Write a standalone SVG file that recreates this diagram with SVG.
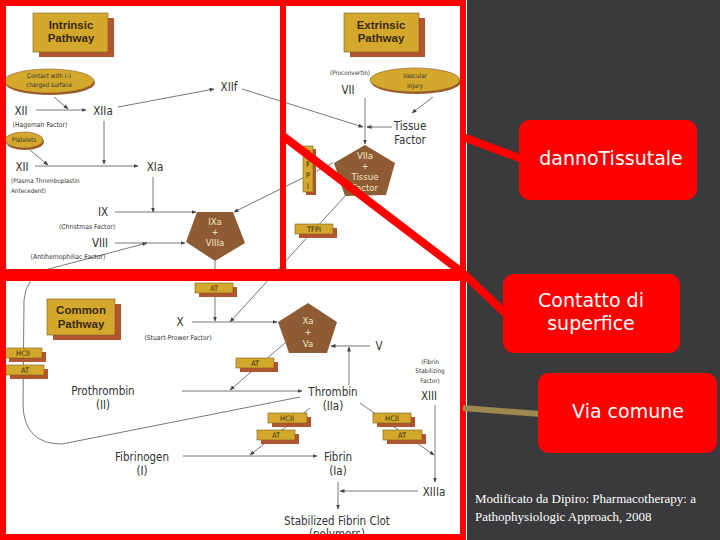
<svg xmlns="http://www.w3.org/2000/svg" width="720" height="540" viewBox="0 0 720 540">
<defs>
<marker id="ah" viewBox="0 0 10 10" refX="9" refY="5" markerWidth="5" markerHeight="5" markerUnits="userSpaceOnUse" orient="auto">
<path d="M0,1 L10,5 L0,9 z" fill="#444"/>
</marker>
<style>
.lbl{font-family:"Liberation Sans Narrow","DejaVu Sans Condensed","Liberation Sans",sans-serif;fill:#333;text-anchor:middle}
.big{font-size:11.5px}
.sm{font-size:6.8px}
.tiny{font-size:6.3px}
.ttl{font-family:"Liberation Sans",Arial,sans-serif;font-weight:bold;font-size:11.5px;fill:#3a2a10;text-anchor:middle}
.gold{fill:#d4a82c;stroke:#7a5a20;stroke-width:0.6}
.shd{fill:#b3562f}
.pent{fill:#8d5c34}
.ptx{font-family:"Liberation Sans Narrow","DejaVu Sans Condensed","Liberation Sans",sans-serif;font-size:9.5px;fill:#f3e4c6;text-anchor:middle}
.bx{font-family:"Liberation Sans Narrow","DejaVu Sans Condensed","Liberation Sans",sans-serif;font-size:7.5px;fill:#3a2a10;text-anchor:middle}
.cn line,.cn path{stroke:#555;stroke-width:0.8;fill:none}
.arr{marker-end:url(#ah)}
.redb{fill:none;stroke:#ff0000;stroke-width:6}
.rbox{fill:#ff0000}
.rtx{font-family:"DejaVu Sans",Verdana,sans-serif;font-size:19px;fill:#ffffff;text-anchor:middle}
.cite{font-family:"Liberation Serif","Times New Roman",serif;font-size:13px;fill:#ffffff}
</style>
</defs>

<rect x="0" y="0" width="720" height="540" fill="#3a3a3c"/>
<rect x="0" y="0" width="467" height="540" fill="#ffffff"/>

<!-- pathway title boxes -->
<g id="intrinsic-title">
<rect class="shd" x="39" y="18" width="75" height="39"/>
<rect class="gold" x="33" y="13" width="75" height="39"/>
<text class="ttl" x="71" y="29">Intrinsic</text>
<text class="ttl" x="71" y="42">Pathway</text>
</g>
<g id="extrinsic-title">
<rect class="shd" x="350" y="18" width="75" height="39"/>
<rect class="gold" x="344" y="13" width="75" height="39"/>
<text class="ttl" x="381" y="29">Extrinsic</text>
<text class="ttl" x="381" y="42">Pathway</text>
</g>
<g id="common-title">
<rect class="shd" x="53" y="304" width="68" height="36"/>
<rect class="gold" x="47" y="299" width="68" height="36"/>
<text class="ttl" x="81" y="314">Common</text>
<text class="ttl" x="81" y="328">Pathway</text>
</g>

<!-- connectors -->
<g id="connectors" class="cn">
<line class="arr" x1="36" y1="110" x2="86" y2="110"/>
<line class="arr" x1="54" y1="97" x2="68" y2="109"/>
<line class="arr" x1="118" y1="107" x2="214" y2="89"/>
<line class="arr" x1="242" y1="89" x2="363" y2="127"/>
<line class="arr" x1="104" y1="121" x2="104" y2="164"/>
<line class="arr" x1="30" y1="150" x2="48" y2="165"/>
<line class="arr" x1="35" y1="166" x2="138" y2="166"/>
<line class="arr" x1="153" y1="177" x2="153" y2="212"/>
<line class="arr" x1="115" y1="212" x2="196" y2="212"/>
<line class="arr" x1="115" y1="243" x2="185" y2="243"/>
<path class="arr" d="M300,397 L62,444 Q24,444 23,405 L24,300 Q26,278 45,270 L147,243"/>
<line x1="215" y1="261" x2="215" y2="274"/>
<line class="arr" x1="333" y1="163" x2="234" y2="212"/>
<line class="arr" x1="345" y1="196" x2="230" y2="322"/>
<line class="arr" x1="365" y1="98" x2="365" y2="144"/>
<line class="arr" x1="433" y1="97" x2="412" y2="113"/>
<line class="arr" x1="392" y1="127" x2="367" y2="127"/>
<line class="arr" x1="215" y1="293" x2="215" y2="321"/>
<line class="arr" x1="192" y1="322" x2="277" y2="322"/>
<line class="arr" x1="285" y1="343" x2="230" y2="390"/>
<line class="arr" x1="182" y1="391" x2="302" y2="391"/>
<line class="arr" x1="370" y1="346" x2="331" y2="346"/>
<line class="arr" x1="349" y1="385" x2="349" y2="347"/>
<line class="arr" x1="310" y1="408" x2="250" y2="455"/>
<line class="arr" x1="360" y1="403" x2="434" y2="455"/>
<line class="arr" x1="435" y1="405" x2="435" y2="482"/>
<line class="arr" x1="183" y1="456" x2="317" y2="456"/>
<line class="arr" x1="418" y1="491" x2="340" y2="491"/>
<line class="arr" x1="338" y1="482" x2="338" y2="509"/>
</g>

<!-- ellipses -->
<g id="contact">
<ellipse cx="50" cy="83" rx="45" ry="12" fill="#9c5a2c"/>
<ellipse cx="49" cy="81" rx="45" ry="12" fill="#d4a82c" stroke="#8a5a2a" stroke-width="0.6"/>
<text class="lbl tiny" x="49" y="78">Contact with (-)</text>
<text class="lbl tiny" x="49" y="87">charged surface</text>
</g>
<g id="platelets">
<ellipse cx="25" cy="142" rx="19" ry="8" fill="#9c5a2c"/>
<ellipse cx="24" cy="140" rx="19" ry="8" fill="#d4a82c" stroke="#8a5a2a" stroke-width="0.6"/>
<text class="lbl tiny" x="24" y="142">Platelets</text>
</g>
<g id="vascular">
<ellipse cx="416" cy="82" rx="45" ry="12" fill="#9c5a2c"/>
<ellipse cx="415" cy="80" rx="45" ry="12" fill="#d4a82c" stroke="#8a5a2a" stroke-width="0.6"/>
<text class="lbl tiny" x="415" y="78">Vascular</text>
<text class="lbl tiny" x="415" y="88">Injury</text>
</g>

<!-- factor labels -->
<g id="xiif"><text class="lbl big" x="229" y="91">XIIf</text></g>
<g id="xii"><text class="lbl big" x="21" y="115">XII</text><text class="lbl sm" x="40" y="127">(Hageman Factor)</text></g>
<g id="xiia"><text class="lbl big" x="103" y="115">XIIa</text></g>
<g id="xi"><text class="lbl big" x="22" y="171">XII</text>
<text class="lbl tiny" x="11" y="183" style="text-anchor:start">(Plasma Thromboplastin</text>
<text class="lbl tiny" x="11" y="193" style="text-anchor:start">Antecedent)</text></g>
<g id="xia"><text class="lbl big" x="155" y="171">XIa</text></g>
<g id="ix"><text class="lbl big" x="103" y="216">IX</text><text class="lbl sm" x="87" y="229">(Christmas Factor)</text></g>
<g id="viii"><text class="lbl big" x="100" y="247">VIII</text><text class="lbl sm" x="68" y="259">(Antihemophiliac Factor)</text></g>
<g id="vii"><text class="lbl tiny" x="350" y="75">(Proconvertin)</text><text class="lbl big" x="348" y="94">VII</text></g>
<g id="tissue-factor"><text class="lbl big" x="410" y="130">Tissue</text><text class="lbl big" x="410" y="144">Factor</text></g>

<g id="ixa-viiia">
<polygon class="pent" points="197,212 233,212 245,243 215,261 186,242"/>
<text class="ptx" x="215" y="225">IXa</text>
<text class="ptx" x="215" y="235">+</text>
<text class="ptx" x="215" y="246">VIIIa</text>
</g>
<g id="viia-tf">
<polygon class="pent" points="365,145 395,163 386,195 345,196 334,163"/>
<text class="ptx" x="365" y="159">VIIa</text>
<text class="ptx" x="365" y="169">+</text>
<text class="ptx" x="365" y="180">Tissue</text>
<text class="ptx" x="365" y="191">Factor</text>
</g>
<g id="tfpi-v">
<rect class="shd" x="306" y="149" width="10" height="46"/>
<rect class="gold" x="303" y="146" width="10" height="46"/>
<text class="bx" x="308" y="156">T</text>
<text class="bx" x="308" y="167">F</text>
<text class="bx" x="308" y="178">P</text>
<text class="bx" x="308" y="189">I</text>
</g>
<g id="tfpi-h">
<rect class="shd" x="299" y="228" width="38" height="10"/>
<rect class="gold" x="295" y="224" width="38" height="10"/>
<text class="bx" x="314" y="232">TFPI</text>
</g>

<!-- common pathway -->
<g id="at1"><rect class="shd" x="199" y="287" width="38" height="10"/><rect class="gold" x="195" y="283" width="38" height="10"/><text class="bx" x="214" y="291">AT</text></g>
<g id="hcii1"><rect class="shd" x="9" y="352" width="37" height="10"/><rect class="gold" x="5" y="348" width="37" height="10"/><text class="bx" x="23" y="356">HCII</text></g>
<g id="at2"><rect class="shd" x="10" y="369" width="38" height="10"/><rect class="gold" x="6" y="365" width="38" height="10"/><text class="bx" x="25" y="373">AT</text></g>
<g id="at3"><rect class="shd" x="240" y="362" width="38" height="10"/><rect class="gold" x="236" y="358" width="38" height="10"/><text class="bx" x="255" y="366">AT</text></g>
<g id="hcii2"><rect class="shd" x="272" y="417" width="39" height="10"/><rect class="gold" x="268" y="413" width="39" height="10"/><text class="bx" x="287" y="421">HCII</text></g>
<g id="at4"><rect class="shd" x="261" y="434" width="38" height="10"/><rect class="gold" x="257" y="430" width="38" height="10"/><text class="bx" x="276" y="438">AT</text></g>
<g id="hcii3"><rect class="shd" x="377" y="417" width="38" height="10"/><rect class="gold" x="373" y="413" width="38" height="10"/><text class="bx" x="392" y="421">HCII</text></g>
<g id="at5"><rect class="shd" x="387" y="434" width="39" height="10"/><rect class="gold" x="383" y="430" width="39" height="10"/><text class="bx" x="402" y="438">AT</text></g>

<g id="x"><text class="lbl big" x="180" y="326">X</text><text class="lbl sm" x="178" y="340">(Stuart-Prower Factor)</text></g>
<g id="xa-va">
<polygon class="pent" points="308,303 337,322 327,353 289,353 278,322"/>
<text class="ptx" x="308" y="324">Xa</text>
<text class="ptx" x="308" y="335">+</text>
<text class="ptx" x="308" y="347">Va</text>
</g>
<g id="v"><text class="lbl big" x="379" y="350">V</text></g>
<g id="prothrombin"><text class="lbl big" x="103" y="395">Prothrombin</text><text class="lbl big" x="103" y="409">(II)</text></g>
<g id="thrombin"><text class="lbl big" x="333" y="396">Thrombin</text><text class="lbl big" x="333" y="410">(IIa)</text></g>
<g id="xiii">
<text class="lbl tiny" x="430" y="364">(Fibrin</text>
<text class="lbl tiny" x="430" y="373">Stabilizing</text>
<text class="lbl tiny" x="430" y="383">Factor)</text>
<text class="lbl big" x="429" y="400">XIII</text>
</g>
<g id="fibrinogen"><text class="lbl big" x="142" y="461">Fibrinogen</text><text class="lbl big" x="142" y="475">(I)</text></g>
<g id="fibrin"><text class="lbl big" x="338" y="461">Fibrin</text><text class="lbl big" x="338" y="475">(Ia)</text></g>
<g id="xiiia"><text class="lbl big" x="434" y="496">XIIIa</text></g>
<g id="clot"><text class="lbl big" x="337" y="525">Stabilized Fibrin Clot</text><text class="lbl big" x="337" y="538">(polymers)</text></g>

<!-- red highlight frames -->
<g id="frames">
<rect class="redb" x="3" y="3" width="280" height="269"/>
<rect class="redb" x="283" y="3" width="180" height="269"/>
<rect class="redb" x="3" y="278" width="460" height="259"/>
</g>

<g id="callout-connectors">
<line x1="463" y1="137" x2="522" y2="159" stroke="#ff0000" stroke-width="8"/>
<polyline points="283,136 463,273 505,313" fill="none" stroke="#ff0000" stroke-width="8"/>
<line x1="463" y1="408" x2="540" y2="414" stroke="#9c8850" stroke-width="6"/>
</g>

<g id="danno">
<rect class="rbox" x="519" y="120" width="178" height="80" rx="11"/>
<text class="rtx" x="611" y="165">dannoTissutale</text>
</g>
<g id="contatto">
<rect class="rbox" x="503" y="274" width="177" height="79" rx="11"/>
<text class="rtx" x="591" y="307">Contatto di</text>
<text class="rtx" x="591" y="330">superfice</text>
</g>
<g id="via">
<rect class="rbox" x="538" y="373" width="179" height="80" rx="11"/>
<text class="rtx" x="628" y="418">Via comune</text>
</g>
<g id="citation">
<text class="cite" x="475" y="503">Modificato da Dipiro: Pharmacotherapy: a</text>
<text class="cite" x="475" y="521">Pathophysiologic Approach, 2008</text>
</g>
</svg>
